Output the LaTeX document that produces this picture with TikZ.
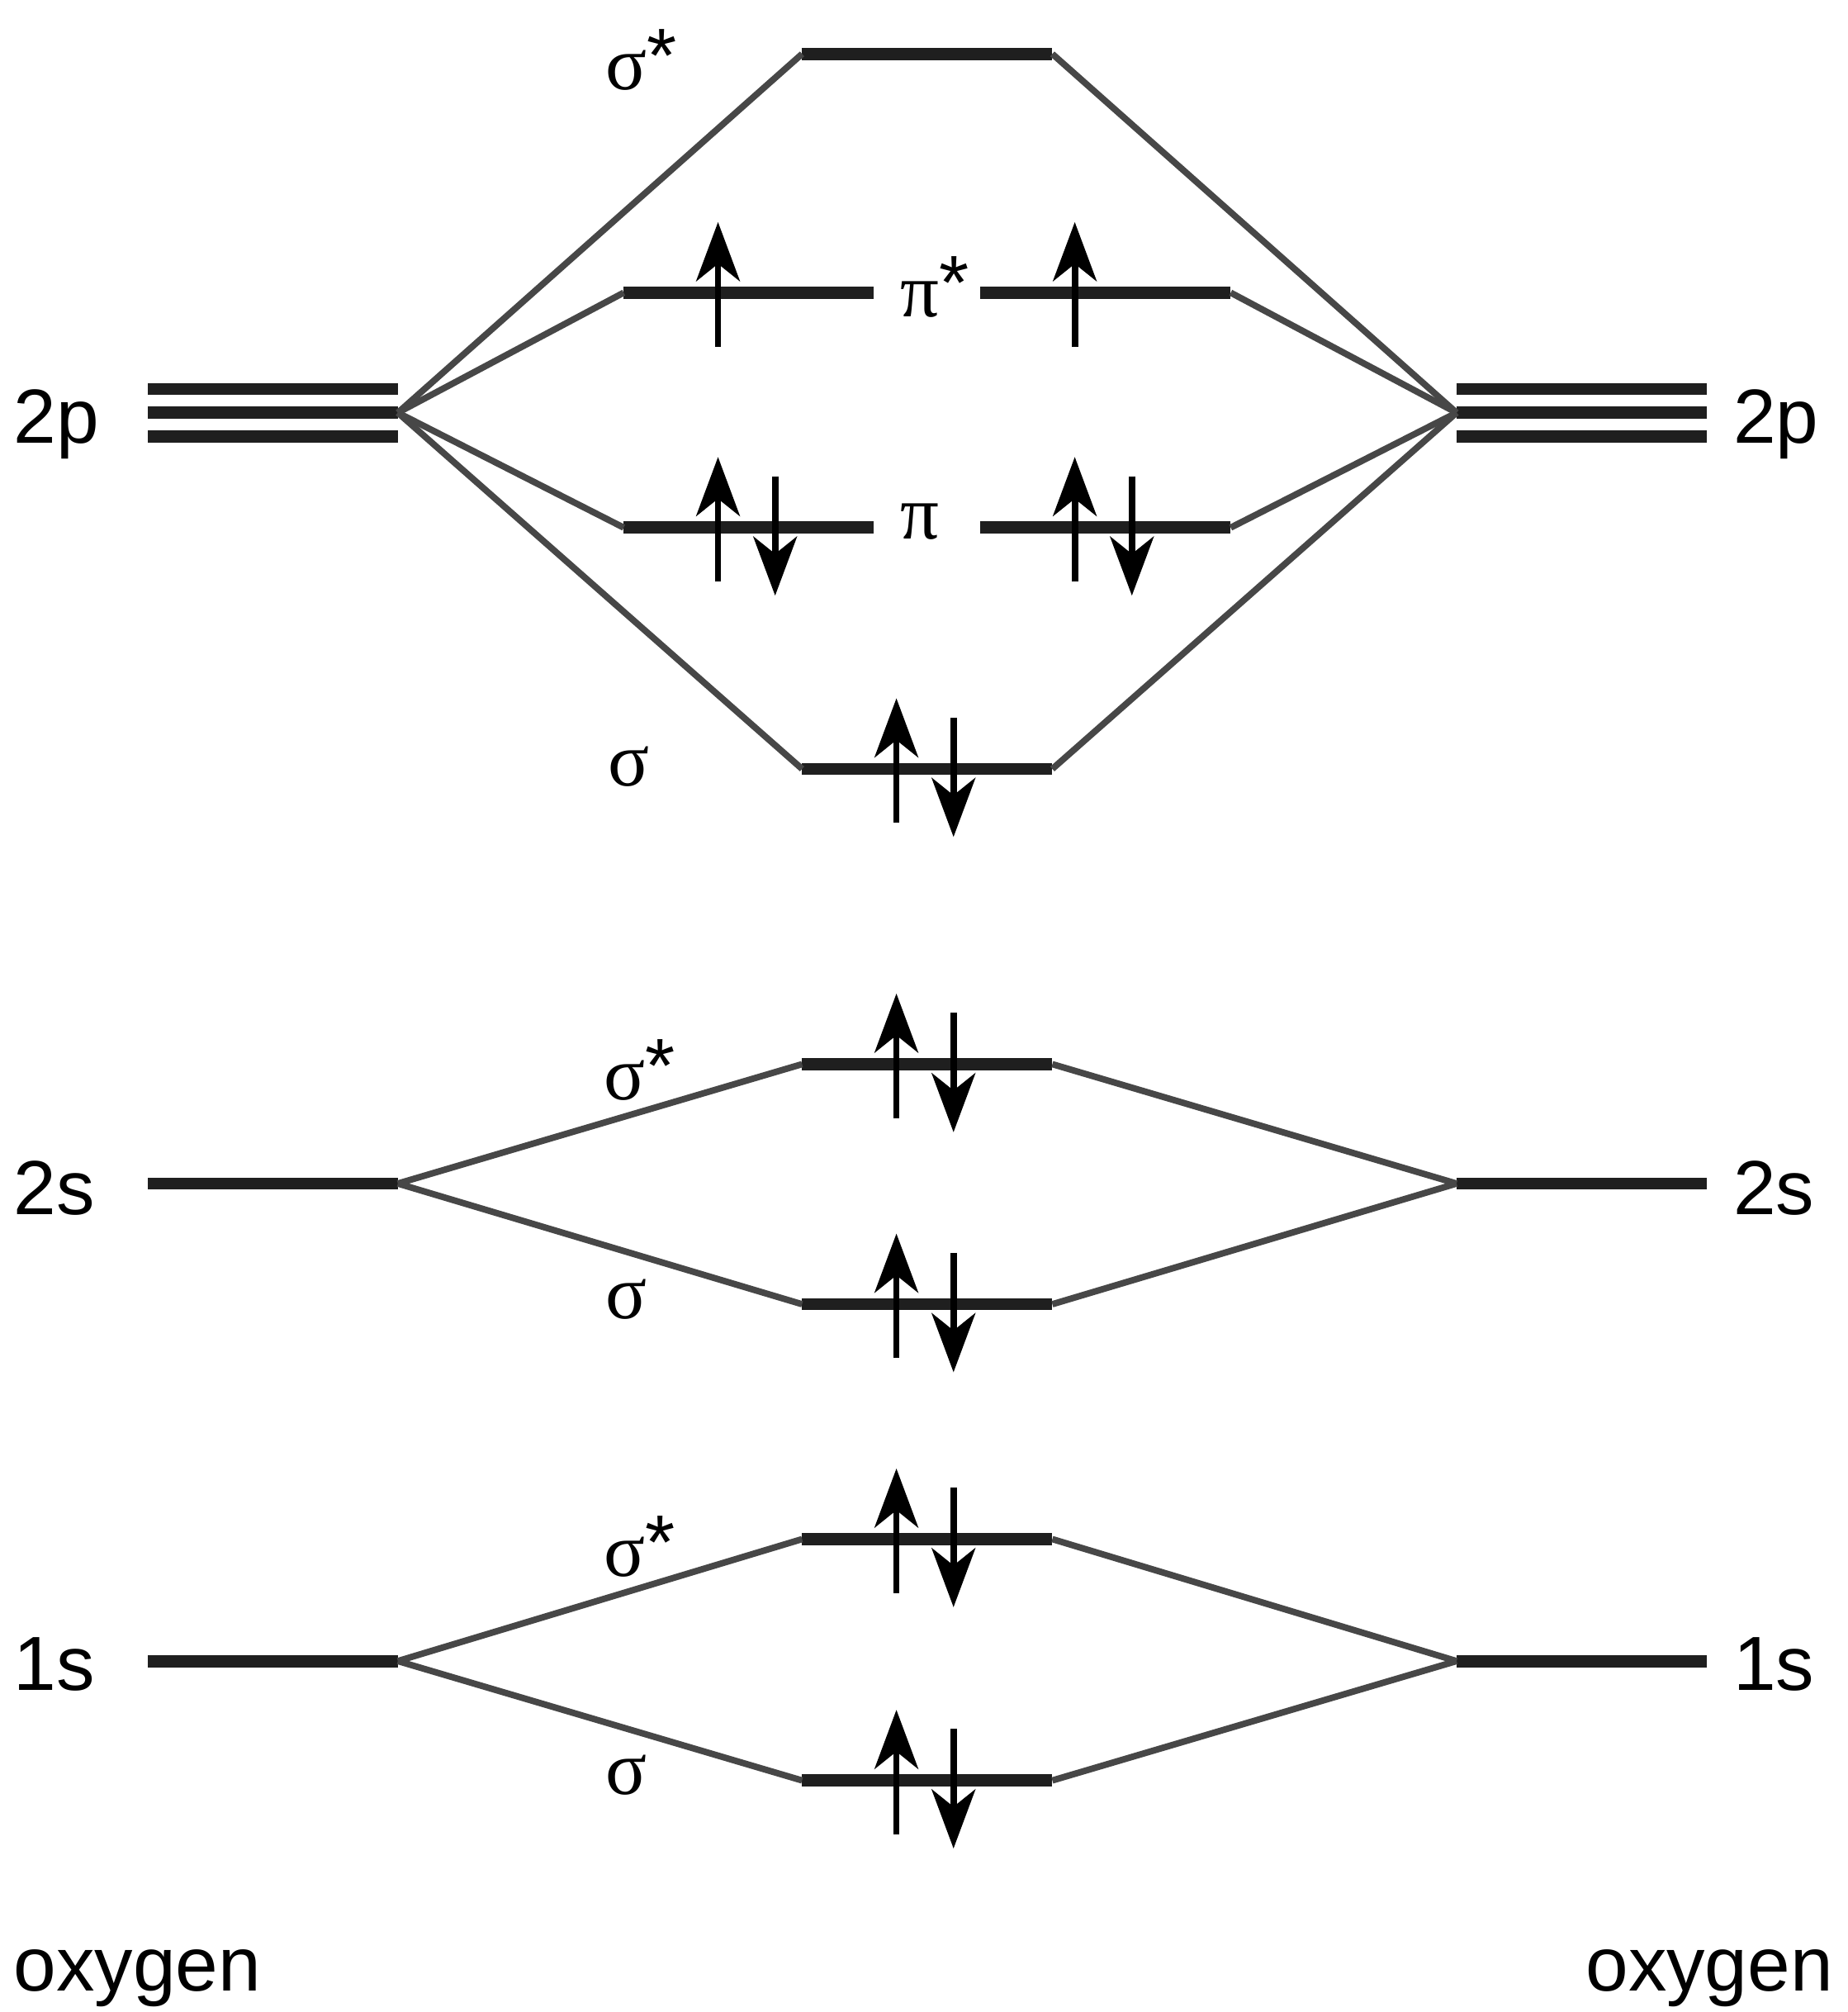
\documentclass[tikz,border=0pt]{standalone}
\usepackage{fontspec}
\setmainfont{Liberation Serif}
\newfontfamily\sansf{Liberation Sans}
\usetikzlibrary{arrows.meta}

\newcommand\anti{\raisebox{0.6mm}{\sansf *}}

\begin{document}
\begin{tikzpicture}[x=0.1mm,y=-0.1mm,
    level/.style={fill=black!88,minimum width=19.5mm,minimum height=0.95mm,inner sep=0pt,outer sep=0pt},
    link/.style={black!72,line width=0.5mm},
    spin/.style={line width=0.5mm,-{Stealth[length=4.6mm,width=3.4mm,inset=1.35mm]}},
    orb/.style={font=\fontsize{17}{20}\selectfont,inner sep=0pt,anchor=base west},
    atom/.style={font=\sansf\fontsize{17}{20}\selectfont,inner sep=0pt,anchor=base west}]
        \useasboundingbox (0,0) rectangle (1440,1567.4);

          % atomic levels
          \node[level] (L2pa) at (212.5,303) {};
          \node[level] (L2p)  at (212.5,321.5) {};
          \node[level] (L2pc) at (212.5,340) {};
          \node[level] (R2pa) at (1232.5,303) {};
          \node[level] (R2p)  at (1232.5,321.5) {};
          \node[level] (R2pc) at (1232.5,340) {};
          \node[level] (L2s) at (212.5,922) {};
          \node[level] (R2s) at (1232.5,922) {};
          \node[level] (L1s) at (212.5,1294) {};
          \node[level] (R1s) at (1232.5,1294) {};

          % molecular levels
          \node[level] (sig2pS) at (722.5,42) {};
          \node[level] (pisL) at (583.5,228) {};
          \node[level] (pisR) at (861.5,228) {};
          \node[level] (piL) at (583.5,411) {};
          \node[level] (piR) at (861.5,411) {};
          \node[level] (sig2p) at (722.5,599) {};
          \node[level] (sig2sS) at (722.5,829) {};
          \node[level] (sig2s) at (722.5,1016) {};
          \node[level] (sig1sS) at (722.5,1199) {};
          \node[level] (sig1s) at (722.5,1387) {};

          \foreach \m in {sig2pS,pisL,piL,sig2p}{
            \draw[link] (L2p.east) -- (\m.west);
          }
          \foreach \m in {sig2pS,pisR,piR,sig2p}{
            \draw[link] (R2p.west) -- (\m.east);
          }
          \foreach \a/\m in {2s/sig2sS,2s/sig2s,1s/sig1sS,1s/sig1s}{
            \draw[link] (L\a.east) -- (\m.west);
            \draw[link] (R\a.west) -- (\m.east);
          }

          % electrons
          \foreach \n in {pisL,pisR}{
            \draw[spin] ([xshift=-2.4mm,yshift=-4.2mm]\n.center) -- ([xshift=-2.4mm,yshift=5.5mm]\n.center);
          }
          \foreach \n in {piL,piR,sig2p,sig2sS,sig2s,sig1sS,sig1s}{
            \draw[spin] ([xshift=-2.4mm,yshift=-4.2mm]\n.center) -- ([xshift=-2.4mm,yshift=5.5mm]\n.center);
            \draw[spin] ([xshift=2.05mm,yshift=4mm]\n.center) -- ([xshift=2.05mm,yshift=-5.3mm]\n.center);
          }

          \node[atom] (t2pL) at (10,345) {2p};
          \node[atom] (t2pR) at (1350,345) {2p};
          \node[atom] (t2sL) at (10,946) {2s};
          \node[atom] (t2sR) at (1350,946) {2s};
          \node[atom] (t1sL) at (10,1317) {1s};
          \node[atom] (t1sR) at (1350,1317) {1s};
          \node[atom] (oxL) at (10,1551) {oxygen};
          \node[atom] (oxR) at (1235,1551) {oxygen};

          \node[orb] (tsig2pS) at (471,70) {σ\anti};
          \node[orb] (tpis) at (701,247) {π\anti};
          \node[orb] (tpi) at (701,420) {π};
          \node[orb] (tsig2p) at (473,612) {σ};
          \node[orb] (tsig2sS) at (470,857) {σ\anti};
          \node[orb] (tsig2s) at (471,1027) {σ};
          \node[orb] (tsig1sS) at (470,1228) {σ\anti};
          \node[orb] (tsig1s) at (471,1398) {σ};
        \end{tikzpicture}
\end{document}
